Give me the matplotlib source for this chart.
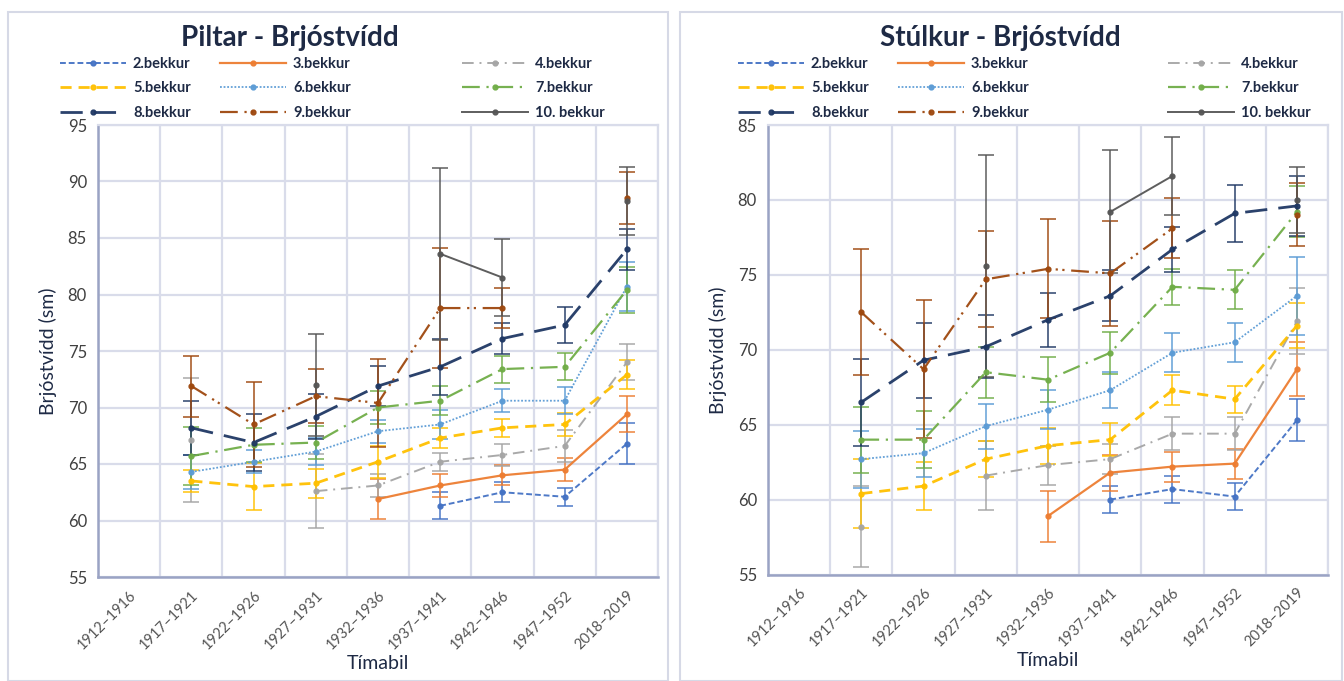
import matplotlib.pyplot as plt
import matplotlib.patches as mpatches
import numpy as np

nan = np.nan

periods = ["1912–1916", "1917–1921", "1922–1926", "1927–1931", "1932–1936",
           "1937–1941", "1942–1946", "1947–1952", "2018–2019"]
grades = ["2.bekkur", "3.bekkur", "4.bekkur", "5.bekkur", "6.bekkur",
          "7.bekkur", "8.bekkur", "9.bekkur", "10. bekkur"]

# Piltar (boys) - mean chest circumference and error
boys_mean = [
    [nan, nan, nan, nan, nan, 61.3, 62.5, 62.1, 66.8],
    [nan, nan, nan, nan, 61.9, 63.1, 64.0, 64.5, 69.4],
    [nan, 67.1, nan, 62.6, 63.1, 65.2, 65.8, 66.6, 74.0],
    [nan, 63.5, 63.0, 63.3, 65.2, 67.3, 68.2, 68.5, 72.9],
    [nan, 64.3, 65.2, 66.1, 67.9, 68.5, 70.6, 70.6, 80.7],
    [nan, 65.7, 66.7, 66.9, 70.0, 70.6, 73.4, 73.6, 80.4],
    [nan, 68.2, 66.9, 69.2, 71.9, 73.6, 76.1, 77.3, 84.0],
    [nan, 71.9, 68.5, 71.0, 70.4, 78.8, 78.8, nan, 88.5],
    [nan, nan, nan, 72.0, nan, 83.6, 81.5, nan, 88.3],
]
boys_err = [
    [nan, nan, nan, nan, nan, 1.2, 0.9, 0.8, 1.8],
    [nan, nan, nan, nan, 1.8, 1.0, 0.9, 1.0, 1.6],
    [nan, 5.5, nan, 3.3, 1.0, 0.8, 1.0, 1.4, 1.6],
    [nan, 1.0, 2.1, 1.3, 1.4, 0.9, 0.8, 1.0, 1.3],
    [nan, 1.5, 1.0, 1.2, 1.0, 1.3, 1.0, 1.2, 2.2],
    [nan, 2.6, 1.5, 1.5, 1.5, 1.3, 1.2, 1.2, 2.0],
    [nan, 2.4, 2.5, 2.0, 1.8, 2.5, 1.4, 1.6, 1.8],
    [nan, 2.7, 3.8, 2.4, 3.9, 5.3, 1.8, nan, 2.3],
    [nan, nan, nan, 4.5, nan, 7.6, 3.4, nan, 3.0],
]

# Stúlkur (girls)
girls_mean = [
    [nan, nan, nan, nan, nan, 60.0, 60.7, 60.2, 65.3],
    [nan, nan, nan, nan, 58.9, 61.8, 62.2, 62.4, 68.7],
    [nan, 58.2, nan, 61.6, 62.3, 62.7, 64.4, 64.4, 71.9],
    [nan, 60.4, 60.9, 62.7, 63.6, 64.0, 67.3, 66.7, 71.6],
    [nan, 62.7, 63.1, 64.9, 66.0, 67.3, 69.8, 70.5, 73.6],
    [nan, 64.0, 64.0, 68.5, 68.0, 69.8, 74.2, 74.0, 79.2],
    [nan, 66.5, 69.3, 70.2, 72.0, 73.6, 76.7, 79.1, 79.6],
    [nan, 72.5, 68.7, 74.7, 75.4, 75.1, 78.1, nan, 79.0],
    [nan, nan, nan, 75.6, nan, 79.2, 81.6, nan, 80.0],
]
girls_err = [
    [nan, nan, nan, nan, nan, 0.9, 0.9, 0.9, 1.4],
    [nan, nan, nan, nan, 1.7, 1.2, 1.0, 1.0, 1.8],
    [nan, 2.7, nan, 2.3, 1.3, 1.0, 1.1, 1.1, 2.2],
    [nan, 2.3, 1.6, 1.2, 1.2, 1.1, 1.0, 0.9, 1.5],
    [nan, 1.9, 1.6, 1.5, 1.3, 1.2, 1.3, 1.3, 2.6],
    [nan, 2.2, 1.9, 1.7, 1.5, 1.4, 1.2, 1.3, 1.7],
    [nan, 2.9, 2.5, 2.1, 1.8, 1.7, 1.5, 1.9, 2.0],
    [nan, 4.2, 4.6, 3.2, 3.3, 3.5, 2.0, nan, 2.1],
    [nan, nan, nan, 7.4, nan, 4.1, 2.6, nan, 2.2],
]

colors = ["#4472C4", "#ED7D31", "#A5A5A5", "#FFC000", "#5B9BD5",
          "#70AD47", "#1F3864", "#9E480E", "#555555"]
styles = [(0, (3, 1.5)), "-", (0, (6, 3, 1, 3)), (0, (4, 2.5)), (0, (1, 1)),
          (0, (8, 3, 1, 3)), (0, (8, 4)), (0, (8, 3, 1, 2, 1, 3)), "-"]
widths = [1.4, 1.6, 1.4, 2.0, 1.3, 1.6, 2.0, 1.6, 1.4]

plt.rcParams['font.family'] = ['Lato', 'DejaVu Sans']
text_col = "#1E2A45"
grid_col = "#D9DCEA"
W, H = 1344, 681

fig = plt.figure(figsize=(13.44, 6.81), dpi=100)

# panel frames
for x0, w in [(8, 660), (680, 662)]:
    fig.patches.append(mpatches.Rectangle((x0 / W, 0), w / W, 669 / H,
                                          transform=fig.transFigure, fill=False,
                                          edgecolor="#D6D9E6", linewidth=1.5))


def draw(rect, means, errs, ymin, ymax, title, title_x, leg_cols):
    ax = fig.add_axes(rect)
    x = np.arange(len(periods))
    handles = []
    for i in range(len(grades)):
        c = ax.errorbar(x, means[i], yerr=errs[i], color=colors[i], ls=styles[i],
                        lw=widths[i], marker="o", ms=3.5, ecolor=colors[i],
                        elinewidth=1.1, capsize=6, capthick=1.1, alpha=0.95)
        handles.append(c.lines[0])
    ax.set_xlim(-0.5, len(periods) - 0.5)
    ax.set_ylim(ymin, ymax)
    ax.set_yticks(np.arange(ymin, ymax + 1, 5))
    ax.set_xticks(x)
    ax.set_xticklabels(periods, rotation=45, ha="right", rotation_mode="anchor",
                       fontsize=10.5, color="#555555")
    ax.set_xticks(np.arange(-0.5, len(periods), 1), minor=True)
    ax.tick_params(axis="x", which="both", length=0, pad=8)
    ax.tick_params(axis="y", length=0, labelsize=12, colors="#404040", pad=8)
    ax.grid(True, axis="y", color=grid_col, lw=1.6)
    ax.grid(True, axis="x", which="minor", color=grid_col, lw=1.6)
    ax.set_axisbelow(True)
    for s in ["top", "right"]:
        ax.spines[s].set_color(grid_col)
        ax.spines[s].set_linewidth(1.6)
    for s in ["left", "bottom"]:
        ax.spines[s].set_color("#9AA3C4")
        ax.spines[s].set_linewidth(1.8)
    ax.set_ylabel("Brjóstvídd (sm)", fontsize=14, color=text_col, labelpad=8)
    ax.set_xlabel("Tímabil", fontsize=14, color=text_col, labelpad=2)
    fig.text(title_x / W, 1 - 38 / H, title, ha="center", va="center",
             fontsize=20, fontweight="bold", color=text_col)
    # one legend per column, rows read 2-3-4 / 5-6-7 / 8-9-10
    for j, lx in enumerate(leg_cols):
        idx = [j, j + 3, j + 6]
        fig.legend([handles[k] for k in idx], [grades[k] for k in idx],
                   loc="upper left", bbox_to_anchor=(lx / W, 1 - 57 / H),
                   frameon=False, handlelength=4.5, numpoints=1,
                   handletextpad=0.5, labelspacing=0.72, borderpad=0,
                   borderaxespad=0, prop={"weight": "bold", "size": 10.5},
                   labelcolor=text_col)
    return ax


draw([98 / W, 104 / H, 560 / W, 452 / H], boys_mean, boys_err,
     55, 95, "Piltar - Brjóstvídd", 290, [60, 220, 462])
draw([768 / W, 106.5 / H, 560 / W, 449.5 / H], girls_mean, girls_err,
     55, 85, "Stúlkur - Brjóstvídd", 1000, [738, 898, 1168])

fig.savefig("out.png", dpi=100)
